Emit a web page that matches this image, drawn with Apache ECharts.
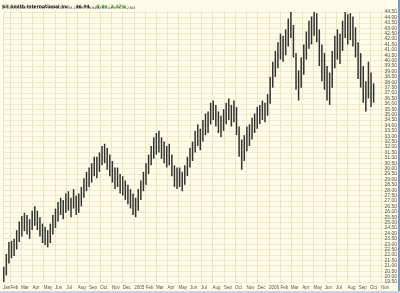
<!DOCTYPE html>
<html><head><meta charset="utf-8">
<script src="https://cdn.jsdelivr.net/npm/echarts@6/dist/echarts.min.js"></script>
<style>html,body{margin:0;padding:0;background:#fffde9;overflow:hidden}#c{width:400px;height:293px}</style>
</head><body><div id="c"></div>
<script>
// ---- data (weekly low / high) ----
const firstWeek = [2004, 0, 12];
const weeklyLow = [
  // 2004
  19.5,20.1,21.2,21.7, 21.9,22.5,23.2,23.7, 24.2,23.9,23.5,24.3, 24.7,24.3,23.7,23.1,
  22.9,22.7,23.1,23.9,24.5, 25.1,25.7,25.3,25.9, 26.1,25.5,26.3,25.7,
  25.9,26.5,27.3,27.9,28.3, 28.7,29.3,29.1,29.7, 30.3,30.5,29.9,29.3,
  28.7,28.1,28.3,27.7,27.5, 27.1,26.7,26.3,25.7,
  // 2005
  25.5,26.1,27.1,27.9,28.5, 29.5,30.3,30.9,31.3, 31.5,30.9,30.5,30.1,
  30.3,29.3,28.3,28.1, 28.3,27.9,28.5,29.3,30.1, 30.7,31.5,32.1,31.7,
  32.5,33.1,33.3,34.1, 34.5,33.9,33.3,32.9,33.5, 34.1,34.5,33.9,34.3,
  33.1,31.1,29.9,30.7,31.6, 32.1,32.7,33.3,33.7, 34.1,34.5,34.3,34.9,
  // 2006
  36.0,37.5,38.5,39.3,40.1, 39.9,40.5,41.3,42.1, 40.3,37.3,36.3,37.5,
  38.7,40.1,41.1,41.5, 42.3,41.7,39.5,38.1,37.3, 36.3,35.9,37.5,39.3,
  40.1,39.7,40.9,42.1,41.5, 41.9,41.3,40.3,38.3, 37.5,36.1,35.3,36.5,
  35.7,36.1
];
const weeklyHigh = [
  // 2004
  20.9,22.1,23.2,23.3, 23.5,24.3,25.1,25.6, 25.9,25.7,25.3,26.1, 26.5,26.1,25.5,24.9,
  24.6,24.3,24.9,25.7,26.3, 26.9,27.3,27.1,27.7, 27.9,27.3,28.1,27.5,
  27.7,28.3,29.1,29.7,30.1, 30.5,31.1,31.1,31.5, 32.1,32.3,31.9,31.3,
  30.7,30.1,30.1,29.5,29.3, 28.9,28.5,28.1,27.7,
  // 2005
  27.3,28.1,28.9,29.7,30.5, 31.3,32.1,32.9,33.3, 33.5,32.9,32.5,32.1,
  32.3,31.3,30.3,30.1, 30.1,29.7,30.3,31.1,31.9, 32.5,33.5,34.1,33.7,
  34.5,35.1,35.3,36.1, 36.3,35.9,35.3,34.9,35.5, 36.1,36.5,35.9,36.3,
  35.7,33.9,32.7,33.1,33.9, 34.1,34.7,35.1,35.7, 35.9,36.3,36.1,36.9,
  // 2006
  38.5,39.9,40.9,41.7,42.5, 42.3,42.9,43.9,44.5, 43.3,40.7,39.1,40.3,
  41.5,42.7,43.7,44.1, 44.5,44.4,42.9,41.5,40.7, 39.5,38.9,40.9,42.3,
  42.9,42.5,43.7,44.5,44.3, 44.4,44.1,43.1,41.7, 40.7,39.5,38.1,39.9,
  38.9,37.9
];
const monthLabels = ['Jan','Feb','Mar','Apr','May','Jun','Jul','Aug','Sep','Oct','Nov','Dec',
  '2005','Feb','Mar','Apr','May','Jun','Jul','Aug','Sep','Oct','Nov','Dec',
  '2006','Feb','Mar','Apr','May','Jun','Jul','Aug','Sep','Oct','Nov'];
const yTickValues = [19.5,20,20.5,21,21.5,22,22.5,23,23.5,24,24.5,25,25.5,26,26.5,27,27.5,28,28.5,29,29.5,
  30,30.5,31,31.5,32,32.5,33,33.5,34,34.5,35,35.5,36,36.5,37,37.5,38,38.5,39,39.5,
  40,40.5,41,41.5,42,42.5,43,43.5,44,44.5];
const headerName = 'SII Smith International Inc';
const headerLast = '36.94';
const headerChange = '0.86  2.37%';
const headerLine2 = 'D: 10/13/2006 O:36.2394 H:36.9519 L:36.2394 C:36.9400 V:2.0253 R:36.2344';

// ---- build ----
const xMin = new Date(2004, 0, 12).getTime();
const xMax = new Date(2006, 11, 16).getTime();
const monthTicks = monthLabels.map((l, i) => i === 0 ? xMin : new Date(2004, i, 1).getTime());
const labelFor = v => {
  let best = '', bd = Infinity;
  monthTicks.forEach((t, i) => { const d = Math.abs(t - v); if (d < bd) { bd = d; best = monthLabels[i]; } });
  return bd < 86400000 ? best : '';
};

const data = weeklyLow.map((lo, i) => {
  const d = new Date(firstWeek[0], firstWeek[1], firstWeek[2] + 7 * i + 2).getTime();
  return [d, lo, weeklyHigh[i]];
});

const chart = echarts.init(document.getElementById('c'), null, {renderer: 'canvas'});
chart.setOption({
  backgroundColor: '#fffde9',
  animation: false,
  grid: {left: 0, right: 2, top: 11, bottom: 10, containLabel: false},
  xAxis: {
    type: 'value', min: xMin, max: xMax, scale: true,
    axisLine: {show: false},
    axisTick: {show: false, customValues: monthTicks},
    axisLabel: {
      customValues: monthTicks, align: 'left', margin: 2, hideOverlap: false,
      showMinLabel: true, showMaxLabel: true,
      fontSize: 4.5, color: '#555', fontFamily: 'Liberation Sans',
      formatter: v => labelFor(v)
    },
    splitLine: {show: true, lineStyle: {color: '#ebe6c2', width: 1}}
  },
  yAxis: {
    type: 'value', position: 'right', min: 19.4, max: 44.6,
    axisLine: {show: false},
    axisTick: {show: false, customValues: yTickValues},
    axisLabel: {
      inside: true, customValues: yTickValues, margin: 1, hideOverlap: false,
      fontSize: 5, color: '#555', fontFamily: 'Liberation Sans',
      formatter: v => v.toFixed(2)
    },
    splitLine: {show: true, lineStyle: {color: '#efebcc', width: 1}}
  },
  series: [{
    type: 'custom',
    clip: true,
    encode: {x: 0, y: [1, 2]},
    data: data,
    renderItem: (params, api) => {
      const a = api.coord([api.value(0), api.value(1)]);
      const b = api.coord([api.value(0), api.value(2)]);
      return {type: 'line', shape: {x1: a[0], y1: a[1], x2: b[0], y2: b[1]},
        style: {stroke: '#333', lineWidth: 1.5}};
    }
  }],
  graphic: [
    {type: 'text', left: 2, top: 1, style: {
      text: '{n|' + headerName + '}  {n|' + headerLast + '}  {g|' + headerChange + '}',
      rich: {n: {fontSize: 4.5, fontWeight: 'bold', fill: '#222', fontFamily: 'DejaVu Sans'},
             g: {fontSize: 4.5, fontWeight: 'bold', fill: '#2faa2f', fontFamily: 'DejaVu Sans'}}
    }},
    {type: 'text', left: 2, top: 7, style: {text: headerLine2, fontSize: 3.4, fill: '#333', fontFamily: 'DejaVu Sans'}},
    {type: 'rect', shape: {x: 398, y: 0, width: 2, height: 293}, style: {fill: '#7a98cf'}},
    {type: 'rect', shape: {x: 0, y: 291, width: 400, height: 2}, style: {fill: '#c9d3e3'}}
  ]
});
</script></body></html>
